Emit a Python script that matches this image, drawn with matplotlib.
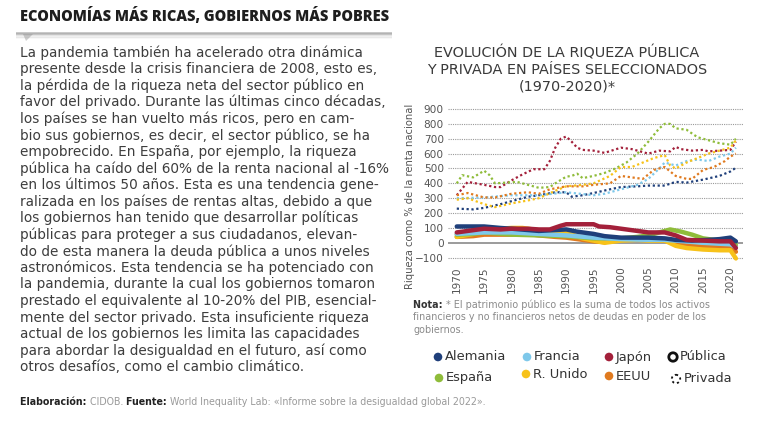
import matplotlib
matplotlib.use("Agg")
import matplotlib.pyplot as plt
from matplotlib.patches import Circle, Polygon

# ---------------- data ----------------
countries = ["Alemania", "Francia", "Japón", "España", "R. Unido", "EEUU"]
colors = ["#1f3f7a", "#7ec8ea", "#a3203a", "#8fbc3a", "#f7c21a", "#e07a1f"]

# Private wealth (% of national income)
priv_de_x = [1970, 1973, 1975, 1978, 1980, 1983, 1985, 1988, 1990, 1991, 1993, 1995, 1998, 2000, 2003, 2005, 2008, 2010, 2012, 2015, 2018, 2020, 2021]
priv_de_y = [230, 225, 235, 260, 280, 310, 320, 340, 340, 310, 320, 335, 360, 375, 380, 385, 385, 410, 405, 425, 450, 480, 505]
priv_fr_x = [1970, 1975, 1980, 1985, 1990, 1995, 1997, 2000, 2003, 2005, 2007, 2008, 2010, 2012, 2014, 2016, 2018, 2020, 2021]
priv_fr_y = [300, 305, 320, 320, 340, 320, 330, 360, 390, 430, 500, 540, 520, 550, 560, 550, 580, 600, 640]
priv_jp_x = [1970, 1972, 1975, 1977, 1978, 1980, 1982, 1984, 1986, 1987, 1988, 1989, 1990, 1991, 1992, 1993, 1995, 1997, 2000, 2002, 2004, 2005, 2007, 2009, 2010, 2011, 2013, 2015, 2016, 2018, 2020, 2021]
priv_jp_y = [320, 410, 390, 375, 375, 420, 460, 495, 495, 550, 640, 700, 715, 680, 640, 625, 620, 605, 640, 630, 610, 600, 620, 615, 645, 630, 620, 625, 615, 620, 625, 680]
priv_es_x = [1970, 1971, 1973, 1975, 1976, 1977, 1979, 1981, 1983, 1985, 1987, 1988, 1990, 1991, 1992, 1993, 1995, 1997, 1999, 2001, 2003, 2005, 2007, 2008, 2009, 2010, 2012, 2014, 2016, 2018, 2020, 2021]
priv_es_y = [400, 455, 440, 485, 455, 400, 405, 410, 390, 370, 375, 400, 445, 450, 465, 435, 450, 470, 500, 540, 600, 680, 770, 800, 800, 770, 760, 710, 690, 670, 660, 700]
priv_uk_x = [1970, 1972, 1975, 1977, 1980, 1983, 1985, 1988, 1990, 1993, 1995, 1998, 2000, 2002, 2004, 2006, 2008, 2009, 2010, 2012, 2014, 2016, 2018, 2020, 2021]
priv_uk_y = [290, 300, 260, 240, 265, 285, 300, 350, 380, 390, 400, 450, 510, 510, 540, 570, 590, 520, 500, 540, 570, 600, 620, 640, 690]
priv_us_x = [1970, 1972, 1975, 1977, 1980, 1983, 1985, 1987, 1990, 1993, 1995, 1998, 2000, 2002, 2004, 2006, 2008, 2010, 2012, 2013, 2015, 2017, 2019, 2020, 2021]
priv_us_y = [320, 335, 305, 305, 330, 340, 330, 360, 380, 380, 390, 400, 450, 440, 430, 490, 510, 450, 430, 430, 490, 510, 550, 580, 600]

# Public wealth (% of national income)
pub_de_x = [1970, 1972, 1975, 1978, 1980, 1985, 1990, 1992, 1995, 1997, 2000, 2003, 2005, 2008, 2010, 2013, 2016, 2018, 2020, 2021]
pub_de_y = [110, 110, 110, 100, 95, 80, 90, 75, 60, 45, 35, 35, 35, 30, 20, 15, 20, 25, 35, 10]
pub_fr_x = [1970, 1975, 1980, 1985, 1990, 1995, 2000, 2005, 2008, 2010, 2015, 2020, 2021]
pub_fr_y = [60, 70, 70, 60, 50, 35, 25, 20, 20, 15, 0, -10, -30]
pub_jp_x = [1970, 1972, 1975, 1978, 1980, 1983, 1985, 1987, 1989, 1990, 1993, 1995, 1996, 1998, 2000, 2003, 2005, 2008, 2010, 2012, 2015, 2018, 2020, 2021]
pub_jp_y = [70, 80, 95, 90, 95, 95, 90, 90, 115, 125, 125, 125, 110, 105, 95, 80, 70, 70, 50, 20, 15, 10, 10, -35]
pub_es_x = [1970, 1973, 1975, 1980, 1985, 1990, 1995, 1998, 2000, 2003, 2005, 2007, 2009, 2011, 2013, 2015, 2017, 2020, 2021]
pub_es_y = [55, 60, 70, 55, 50, 45, 30, 30, 30, 40, 50, 70, 90, 75, 55, 30, 20, 10, -16]
pub_uk_x = [1970, 1973, 1975, 1978, 1980, 1982, 1985, 1988, 1990, 1993, 1995, 1997, 2000, 2003, 2005, 2008, 2010, 2012, 2015, 2018, 2020, 2021]
pub_uk_y = [40, 60, 105, 95, 100, 100, 85, 80, 70, 30, 15, 0, 15, 20, 15, 15, -20, -35, -45, -50, -50, -105]
pub_us_x = [1970, 1973, 1975, 1978, 1980, 1983, 1985, 1988, 1990, 1993, 1995, 1997, 2000, 2003, 2005, 2008, 2010, 2012, 2015, 2018, 2020, 2021]
pub_us_y = [40, 45, 55, 55, 55, 60, 50, 40, 35, 20, 10, 5, 20, 25, 20, 15, -5, -20, -25, -30, -30, -60]

yticks = [-100, 0, 100, 200, 300, 400, 500, 600, 700, 800, 900]
xticks = [1970, 1975, 1980, 1985, 1990, 1995, 2000, 2005, 2010, 2015, 2020]

body_lines = [
    "La pandemia también ha acelerado otra dinámica",
    "presente desde la crisis financiera de 2008, esto es,",
    "la pérdida de la riqueza neta del sector público en",
    "favor del privado. Durante las últimas cinco décadas,",
    "los países se han vuelto más ricos, pero en cam-",
    "bio sus gobiernos, es decir, el sector público, se ha",
    "empobrecido. En España, por ejemplo, la riqueza",
    "pública ha caído del 60% de la renta nacional al -16%",
    "en los últimos 50 años. Esta es una tendencia gene-",
    "ralizada en los países de rentas altas, debido a que",
    "los gobiernos han tenido que desarrollar políticas",
    "públicas para proteger a sus ciudadanos, elevan-",
    "do de esta manera la deuda pública a unos niveles",
    "astronómicos. Esta tendencia se ha potenciado con",
    "la pandemia, durante la cual los gobiernos tomaron",
    "prestado el equivalente al 10-20% del PIB, esencial-",
    "mente del sector privado. Esta insuficiente riqueza",
    "actual de los gobiernos les limita las capacidades",
    "para abordar la desigualdad en el futuro, así como",
    "otros desafíos, como el cambio climático.",
]

# ---------------- figure ----------------
W, H = 770, 428
FONT = ['DejaVu Sans']
plt.rcParams['font.family'] = FONT
fig = plt.figure(figsize=(W / 100, H / 100), dpi=100)
fig.patch.set_facecolor("white")
renderer = fig.canvas.get_renderer()

# overlay in pixel coords
ov = fig.add_axes([0, 0, 1, 1], zorder=0)
ov.set_xlim(0, W)
ov.set_ylim(H, 0)
ov.axis("off")


def width_px(t):
    return t.get_window_extent(renderer=renderer).width


def fit(t, target):
    fs = t.get_fontsize()
    t.set_fontsize(fs * target / width_px(t))
    return t


def seq(x, y, parts, fs, target=None, **kw):
    """draw consecutive text runs: parts = [(text, weight, color)]"""
    if target is not None:
        tot = 0
        for s, wgt, col in parts:
            t = ov.text(0, -50, s, fontsize=fs, fontweight=wgt)
            tot += width_px(t)
            t.remove()
        fs = fs * target / tot
    for s, wgt, col in parts:
        t = ov.text(x, y, s, fontsize=fs, fontweight=wgt, color=col, va="center", ha="left", **kw)
        x += width_px(t) * (W / fig.bbox.width)
    return fs


# header
hdr = ov.text(20, 16.5, "ECONOMÍAS MÁS RICAS, GOBIERNOS MÁS POBRES", fontsize=10,
              fontweight="heavy", color="#1e1e1e", va="center", ha="left",
              family=['Open Sans', 'DejaVu Sans'])
fit(hdr, 370)
for i, a in enumerate([0.5, 0.38, 0.25, 0.14, 0.06]):
    ov.plot([16, 392], [33 + i * 1.2, 33 + i * 1.2], color="#8a8a8a", lw=1.3, alpha=a,
            solid_capstyle="butt")
ov.add_patch(Polygon([[23, 34], [33, 34], [26, 41]], closed=True, color="#cfcfcf", lw=0))

# body text
probe = ov.text(0, -50, body_lines[3], fontsize=10, va="center")
body_fs = 10 * 365 / width_px(probe)
probe.remove()
y0, dy = 52.5, 16.57
for i, line in enumerate(body_lines):
    ov.text(20, y0 + i * dy, line, fontsize=body_fs, color="#3d3d3d", va="center", ha="left")

# footer
seq(20, 402, [("Elaboración: ", "bold", "#222"), ("CIDOB. ", "normal", "#9a9a9a"),
              ("Fuente: ", "bold", "#222"),
              ("World Inequality Lab: «Informe sobre la desigualdad global 2022».", "normal", "#9a9a9a")],
    6.3, target=470)

# chart title
for i, t in enumerate(["EVOLUCIÓN DE LA RIQUEZA PÚBLICA",
                       "Y PRIVADA EN PAÍSES SELECCIONADOS",
                       "(1970-2020)*"]):
    tt = ov.text(567, 53 + i * 16.6, t, fontsize=9.6, color="#3a3a3a", ha="center", va="center")
    if i == 0:
        fit(tt, 265)
        title_fs = tt.get_fontsize()
    else:
        tt.set_fontsize(title_fs)

# nota
nfs = seq(413, 305, [("Nota: ", "bold", "#333"),
                     ("* El patrimonio público es la suma de todos los activos", "normal", "#8a8a8a")],
          6.6, target=296)
ov.text(413, 317.5, "financieros y no financieros netos de deudas en poder de los",
        fontsize=nfs, color="#8a8a8a", va="center")
ov.text(413, 330, "gobiernos.", fontsize=nfs, color="#8a8a8a", va="center")

# legend
leg_pos = [(438, 357), (527, 357), (609, 357), (439, 378), (526, 374), (609, 376)]
probe = ov.text(0, -50, "Alemania", fontsize=10)
leg_fs = 10 * 61 / width_px(probe)
probe.remove()
for (lx, ly), name, c in zip(leg_pos, countries, colors):
    ov.add_patch(Circle((lx, ly), 4.3, color=c, lw=0))
    ov.text(lx + 7, ly, name, fontsize=leg_fs, color="#333", va="center", ha="left")
ov.add_patch(Circle((673, 357), 4.2, facecolor="none", edgecolor="#111", lw=2.0))
ov.text(680, 357, "Pública", fontsize=leg_fs, color="#333", va="center", ha="left")
ov.add_patch(Circle((676, 379), 4.2, facecolor="none", edgecolor="#111", lw=1.3,
                    linestyle=(0, (1.2, 1.6))))
ov.text(684, 379, "Privada", fontsize=leg_fs, color="#333", va="center", ha="left")

# y-label
ov.text(410, 196, "Riqueza como % de la renta nacional", rotation=90, fontsize=7.2,
        color="#555", ha="center", va="center")

# ---------------- chart ----------------
left, right, top, bottom = 448, 743, 105, 262
ax = fig.add_axes([left / W, 1 - bottom / H, (right - left) / W, (bottom - top) / H], zorder=2)
ax.patch.set_alpha(0)
ax.set_xlim(1968.4, 2022.3)
ax.set_ylim(-100 - 4.3 / 0.1487, 900 + 4 / 0.1487)

for yt in yticks:
    if yt == 0:
        ax.axhline(0, color="#8a8a8a", lw=1.2, zorder=1)
    else:
        ax.axhline(yt, color="#9a9a9a", lw=0.8, linestyle=(0, (1, 1)), zorder=1)

private = [(priv_de_x, priv_de_y), (priv_fr_x, priv_fr_y), (priv_jp_x, priv_jp_y),
           (priv_es_x, priv_es_y), (priv_uk_x, priv_uk_y), (priv_us_x, priv_us_y)]
public = [(pub_de_x, pub_de_y), (pub_fr_x, pub_fr_y), (pub_jp_x, pub_jp_y),
          (pub_es_x, pub_es_y), (pub_uk_x, pub_uk_y), (pub_us_x, pub_us_y)]

for (xs, ys), c in zip(private, colors):
    ax.plot(xs, ys, color=c, lw=1.6, linestyle=(0, (1, 1.2)), zorder=3)
pub_order = [5, 4, 3, 1, 0, 2]
for k in pub_order:
    xs, ys = public[k]
    ax.plot(xs, ys, color=colors[k], lw=3.2, solid_capstyle="round", zorder=4)

ax.set_yticks(yticks)
ax.set_xticks(xticks)
ax.set_xticklabels([str(x) for x in xticks], rotation=90)
ax.tick_params(axis="both", length=0, labelsize=7.6, labelcolor="#555", pad=3)
for s in ax.spines.values():
    s.set_visible(False)

fig.savefig("out.png", dpi=100, facecolor="white")
